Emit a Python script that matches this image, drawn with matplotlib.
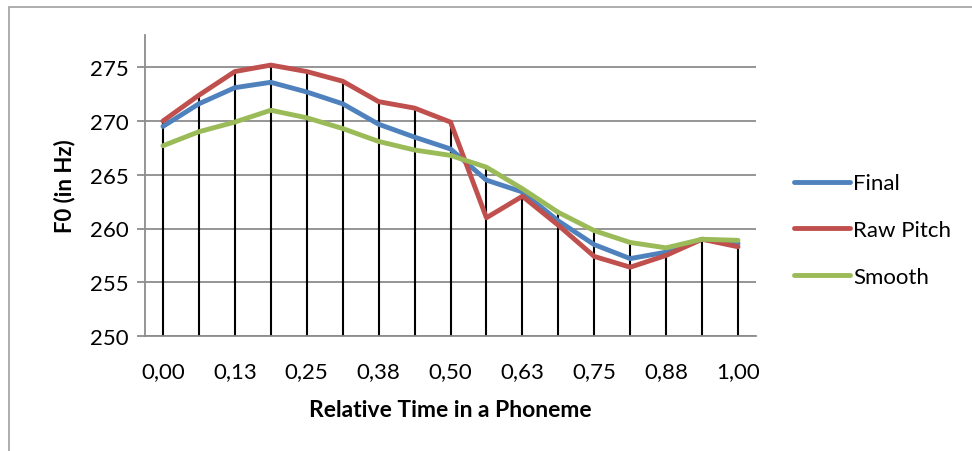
import matplotlib.pyplot as plt
import matplotlib.patches as mpatches
import numpy as np

# F0 contour over the relative time of a phoneme (17 sample points)
time_labels = ["0,00", "0,06", "0,13", "0,19", "0,25", "0,31", "0,38", "0,44", "0,50",
               "0,56", "0,63", "0,69", "0,75", "0,81", "0,88", "0,94", "1,00"]
final = [269.5, 271.6, 273.1, 273.6, 272.7, 271.6, 269.7, 268.5, 267.4,
         264.5, 263.4, 260.7, 258.5, 257.2, 257.8, 259.0, 258.6]
raw_pitch = [270.0, 272.4, 274.6, 275.2, 274.6, 273.7, 271.8, 271.2, 269.9,
             261.0, 263.0, 260.3, 257.4, 256.4, 257.5, 259.0, 258.3]
smooth = [267.7, 269.0, 269.9, 271.0, 270.3, 269.3, 268.1, 267.3, 266.8,
          265.7, 263.7, 261.5, 259.8, 258.7, 258.2, 259.0, 258.9]

plt.rcParams['font.family'] = ['Lato', 'DejaVu Sans']

fig = plt.figure(figsize=(9.72, 4.52), dpi=100)
ax = fig.add_axes([145/972, 1-337/452, (756-145)/972, (337-36)/452])

x = np.arange(len(time_labels))
top = np.max([final, raw_pitch, smooth], axis=0)

# drop lines from the highest point down to the axis
ax.vlines(x, 250, top, color="black", linewidth=1.5, zorder=2)

ax.plot(x, final, color="#4F81BD", linewidth=3.5, label="Final", zorder=3,
        solid_capstyle="round", solid_joinstyle="round")
ax.plot(x, raw_pitch, color="#C0504D", linewidth=3.5, label="Raw Pitch", zorder=3,
        solid_capstyle="round", solid_joinstyle="round")
ax.plot(x, smooth, color="#9BBB59", linewidth=3.5, label="Smooth", zorder=4,
        solid_capstyle="round", solid_joinstyle="round")

ax.set_xlim(-0.5, len(x) - 0.5)
ax.set_ylim(250, 278)
ax.set_yticks(np.arange(250, 276, 5))
ax.set_xticks(x[::2])
ax.set_xticklabels(time_labels[::2])
ax.yaxis.grid(True, color="#8c8c8c", linewidth=1.3)
ax.set_axisbelow(True)

for s in ["top", "right"]:
    ax.spines[s].set_visible(False)
ax.spines["left"].set_color("#8c8c8c")
ax.spines["bottom"].set_color("#8c8c8c")
ax.spines["left"].set_linewidth(1.3)
ax.spines["bottom"].set_linewidth(1.3)

ax.tick_params(axis="y", length=6, width=1.3, color="#8c8c8c", labelsize=16, pad=6)
ax.tick_params(axis="x", length=0, labelsize=16, pad=18)

ax.set_xlabel("Relative Time in a Phoneme", fontsize=16.5, fontweight="bold", labelpad=13)
ax.set_ylabel("F0 (in Hz)", fontsize=16, fontweight="bold", labelpad=10)

ax.legend(loc="center left", bbox_to_anchor=(1.03, 0.352), frameon=False,
          fontsize=16, handlelength=2.5, handletextpad=0.15, labelspacing=1.2)

# chart area border
fig.patches.append(mpatches.Rectangle((9/972, -0.1), 1.2, 1.1 - 8/452,
                                      transform=fig.transFigure, fill=False,
                                      edgecolor="#a0a0a0", linewidth=1.2))

fig.savefig("out.png", dpi=100)
